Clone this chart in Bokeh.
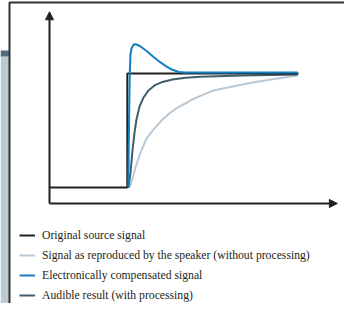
from bokeh.plotting import figure
from bokeh.models import Range1d, Legend, LegendItem, Arrow, NormalHead, BoxAnnotation
from bokeh.embed import file_html
from bokeh.resources import INLINE

# ---- data (time units, signal level) ----
labels = [
    "Original source signal",
    "Signal as reproduced by the speaker (without processing)",
    "Electronically compensated signal",
    "Audible result (with processing)",
]

orig_t = [0, 10, 10, 32]
orig_v = [0.123, 0.123, 1.0, 1.0]

speaker_t = [10.09, 10.41, 11.05, 11.70, 12.47, 13.41, 14.52, 15.55, 16.58, 17.70,
             18.38, 19.41, 20.95, 23.52, 26.09, 28.66, 31.9]
speaker_v = [0.123, 0.138, 0.277, 0.392, 0.50, 0.572, 0.646, 0.70, 0.742, 0.777,
             0.802, 0.828, 0.867, 0.90, 0.931, 0.956, 0.985]

comp_t = [10.13, 10.19, 10.26, 10.32, 10.41, 10.54, 10.84, 11.18, 11.70, 12.56,
          13.37, 14.27, 14.91, 15.55, 16.62, 17.48, 31.9]
comp_v = [0.123, 0.469, 0.777, 1.008, 1.146, 1.192, 1.225, 1.223, 1.208, 1.169,
          1.127, 1.085, 1.059, 1.035, 1.012, 1.007, 1.007]

aud_t = [10.15, 10.41, 10.67, 10.93, 11.18, 11.57, 12.08, 12.72, 13.50, 14.52,
         15.81, 17.48, 19.41, 24.81, 31.9]
aud_v = [0.123, 0.238, 0.408, 0.546, 0.646, 0.746, 0.815, 0.869, 0.908, 0.935,
         0.954, 0.967, 0.975, 0.985, 0.992]

T_AXIS_END = 37.0
V_AXIS_END = 1.475

# ---- layout ----
W, H = 344, 303
PX_T = 7.78      # px per time unit
PX_V = 130.0     # px per level unit
ORIGIN_X = 49    # px from figure left to axis origin
ORIGIN_Y = 203   # px from figure top to axis origin

x0 = -ORIGIN_X / PX_T
x1 = x0 + W / PX_T
y1 = ORIGIN_Y / PX_V
y0 = y1 - H / PX_V

p = figure(width=W, height=H, output_backend="svg", toolbar_location=None,
           x_range=Range1d(x0, x1), y_range=Range1d(y0, y1), min_border=0)
p.axis.visible = False
p.grid.visible = False
p.outline_line_color = None
p.background_fill_color = "white"
p.border_fill_color = "white"

# decorative side panel and frame
panel_right = x0 + 9 / PX_T
band_bottom = y1 - 56 / PX_V
band_top = y1 - 50 / PX_V
p.add_layout(BoxAnnotation(right=panel_right, top=band_bottom, fill_color="#bccad3",
                           fill_alpha=1, line_alpha=0, level="underlay"))
p.add_layout(BoxAnnotation(right=panel_right, bottom=band_bottom, top=band_top,
                           fill_color="#4d6d7e", fill_alpha=1, line_alpha=0, level="underlay"))
frame_top = y1 - 2 / PX_V
p.line([panel_right, panel_right, x1 + 1], [y0 - 1, frame_top, frame_top],
       line_color="#333333", line_width=2)

# axes arrows
for xe, ye in [(0, V_AXIS_END), (T_AXIS_END, 0)]:
    p.add_layout(Arrow(x_start=0, y_start=0, x_end=xe, y_end=ye,
                       line_color="#231f20", line_width=2,
                       end=NormalHead(size=8, fill_color="#231f20", line_color="#231f20", line_width=1)))

r_speaker = p.line(speaker_t, speaker_v, line_color="#b9c9d4", line_width=2, line_join="round")
r_aud = p.line(aud_t, aud_v, line_color="#3f5d6d", line_width=2, line_join="round")
r_orig = p.line(orig_t, orig_v, line_color="#231f20", line_width=2)
r_comp = p.line(comp_t, comp_v, line_color="#137fbf", line_width=2, line_join="round")

legend = Legend(items=[LegendItem(label=labels[0], renderers=[r_orig]),
                       LegendItem(label=labels[1], renderers=[r_speaker]),
                       LegendItem(label=labels[2], renderers=[r_comp]),
                       LegendItem(label=labels[3], renderers=[r_aud])],
                location=(19, 1), padding=0, margin=0, spacing=6,
                glyph_width=16, glyph_height=14, label_height=14, label_standoff=7,
                label_text_font="Liberation Sans Narrow", label_text_font_size="11.7px",
                label_text_color="#231f20", border_line_alpha=0, background_fill_alpha=0)
p.add_layout(legend)

open("out.html", "w").write(file_html(p, INLINE))
